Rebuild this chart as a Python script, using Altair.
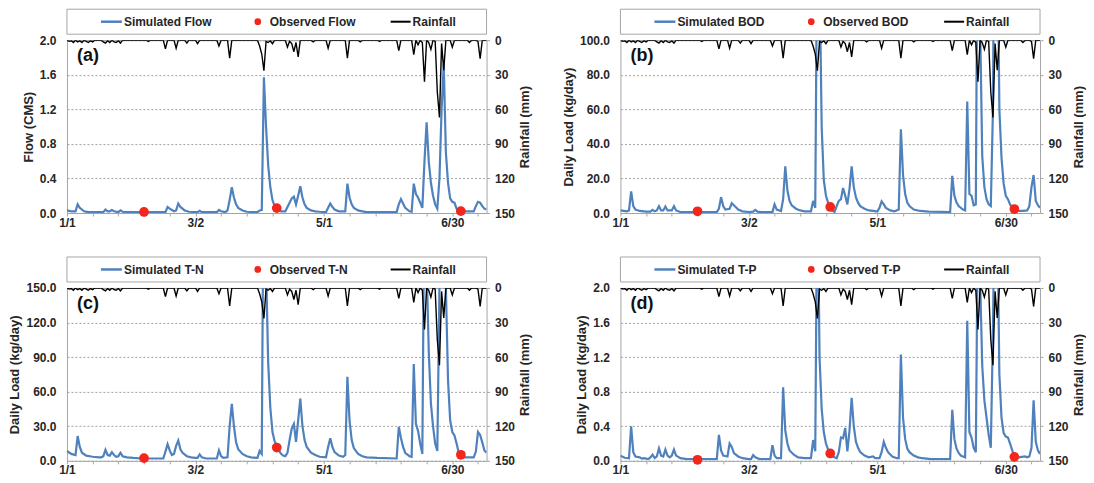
import altair as alt
import pandas as pd

# ---------------- data ----------------
X_END = 196
tick_days = [0, 60, 120, 180]
tick_labels = ["1/1", "3/2", "5/1", "6/30"]
minor_days = list(range(0, 197, 12))
rain_ticks = [0, 30, 60, 90, 120, 150]

rain_values = [
    (0, 0), (1, 1), (2, 0.5), (3, 2), (4, 0), (5, 1.5), (6, 0.5), (7, 2), (8, 0), (9, 1), (10, 2),
    (11, 0.5), (12, 1.5), (13, 0), (16, 0), (17, 1.5), (18, 2.5), (19, 0.5), (20, 2), (21, 0),
    (22, 1.5), (23, 2), (24, 0.5), (25, 2.5), (26, 0), (37, 0), (38, 1), (39, 0), (45, 0), (46, 7.5),
    (47, 0), (50, 0), (51, 7), (52, 0), (55, 0), (56, 2.5), (57, 0), (60, 0), (61, 3), (62, 0),
    (70, 0), (71, 5), (72, 0), (75, 0), (76, 15.5), (77, 0), (89, 0), (90, 5), (91, 12), (92, 26.5),
    (93, 1), (94, 2), (95, 0.5), (96, 3), (97, 0), (102, 0), (103, 6), (104, 1), (105, 3), (106, 10),
    (107, 2), (108, 14.5), (109, 0), (114, 0), (115, 1.5), (116, 0), (121, 0), (122, 7), (123, 0),
    (130, 0), (131, 15.5), (132, 0), (136, 0), (137, 1.5), (138, 0), (145, 0), (146, 1), (147, 0),
    (154, 0), (155, 9), (156, 0), (161, 0), (162, 12.5), (163, 0), (164, 4), (165, 0), (166, 2),
    (167, 36), (168, 0), (169, 2), (170, 8), (171, 0), (172, 1), (173, 45), (174, 67), (175, 3),
    (176, 26), (177, 0), (179, 0), (180, 6), (181, 0), (187, 0), (188, 2), (189, 0), (191, 0),
    (192, 1), (193, 16), (194, 0), (196, 0),
]

flow_sim = [
    (0, 0.03), (2, 0.02), (4, 0.02), (5, 0.10), (6, 0.06), (8, 0.02), (10, 0.01), (17, 0.01),
    (18, 0.04), (19, 0.02), (20, 0.02), (21, 0.035), (22, 0.02), (24, 0.01), (25, 0.03), (26, 0.015),
    (28, 0.01), (46, 0.01), (47, 0.07), (48, 0.05), (50, 0.02), (51, 0.03), (52, 0.11), (53, 0.07),
    (55, 0.03), (57, 0.015), (61, 0.01), (62, 0.025), (63, 0.01), (70, 0.01), (71, 0.035), (72, 0.02),
    (74, 0.01), (75, 0.03), (76, 0.15), (77, 0.30), (78, 0.18), (79, 0.10), (80, 0.06), (82, 0.03),
    (84, 0.015), (89, 0.01), (90, 0.03), (91, 0.035), (92, 1.57), (93, 1.0), (94, 0.55), (95, 0.30),
    (96, 0.15), (97, 0.08), (98, 0.05), (99, 0.03), (100, 0.02), (102, 0.02), (103, 0.07), (104, 0.12),
    (105, 0.17), (106, 0.19), (107, 0.10), (108, 0.20), (109, 0.31), (110, 0.18), (111, 0.10),
    (112, 0.06), (114, 0.03), (116, 0.02), (118, 0.015), (121, 0.01), (122, 0.06), (123, 0.11),
    (124, 0.07), (125, 0.04), (127, 0.02), (130, 0.02), (131, 0.34), (132, 0.18), (133, 0.10),
    (134, 0.06), (136, 0.03), (138, 0.02), (140, 0.01), (154, 0.01), (155, 0.10), (156, 0.16),
    (157, 0.11), (158, 0.06), (160, 0.02), (161, 0.015), (162, 0.34), (163, 0.22), (164, 0.18),
    (165, 0.12), (166, 0.06), (167, 0.60), (168, 1.05), (169, 0.60), (170, 0.35), (171, 0.20),
    (172, 0.10), (173, 0.05), (174, 0.40), (175, 1.20), (176, 1.72), (177, 0.70), (178, 0.35),
    (179, 0.17), (180, 0.13), (181, 0.12), (182, 0.05), (183, 0.02), (190, 0.02), (191, 0.08),
    (192, 0.13), (193, 0.12), (194, 0.08), (195, 0.05), (196, 0.04),
]

bod_sim = [
    (0, 1.5), (3, 1.0), (4, 1.5), (5, 12.5), (6, 4), (7, 2), (9, 1.2), (12, 0.8), (14, 0.8), (15, 1.8),
    (16, 1.0), (17, 1.5), (18, 4.0), (19, 1.5), (20, 1.5), (21, 3.8), (22, 1.5), (24, 1.5), (25, 4.0),
    (26, 1.5), (28, 0.6), (45, 0.5), (46, 2.5), (47, 9.2), (48, 4), (49, 2), (51, 2.5), (52, 5.7),
    (53, 4.5), (55, 2), (57, 1), (60, 0.6), (62, 0.8), (63, 1.8), (64, 0.8), (66, 0.5), (71, 0.5),
    (72, 5), (73, 2), (75, 1.2), (76, 8), (77, 27), (78, 13), (79, 7), (80, 4.5), (82, 2.5), (84, 1.5),
    (86, 1), (89, 1), (90, 7), (91, 3), (92, 180), (93, 140), (94, 50), (95, 19), (96, 10), (97, 6),
    (98, 3.5), (99, 1.5), (100, 0.6), (101, 4), (102, 7), (103, 8), (104, 14.5), (105, 10), (106, 5),
    (107, 14), (108, 27), (109, 15), (110, 9), (111, 6), (112, 4), (114, 2.5), (116, 1.5), (118, 1.2),
    (120, 0.8), (121, 3), (122, 6.7), (123, 5), (124, 3), (126, 1.5), (128, 1), (130, 2), (131, 48.5),
    (132, 22), (133, 11), (134, 6), (135, 4), (137, 2), (140, 1.2), (144, 0.8), (154, 0.6), (155, 21.5),
    (156, 10), (157, 6), (158, 4), (160, 2), (161, 1.5), (162, 64.5), (163, 11), (164, 10), (165, 4.5),
    (166, 5), (167, 220), (168, 110), (169, 33), (170, 15), (171, 8), (172, 5), (173, 4), (174, 60),
    (175, 250), (176, 180), (177, 60), (178, 32), (179, 17), (180, 10), (181, 8), (182, 5), (183, 3),
    (184, 2), (186, 1.2), (188, 1.2), (190, 1.5), (191, 4), (192, 15), (193, 22), (194, 7), (195, 4.5),
    (196, 3),
]

tn_sim = [
    (0, 8.5), (2, 6), (4, 5), (5, 21.5), (6, 12), (7, 7), (9, 4.5), (12, 3.5), (15, 3), (16, 3), (17, 4),
    (18, 9.5), (19, 5), (20, 4.5), (21, 7.5), (22, 5), (23, 3.5), (24, 4), (25, 7), (26, 4), (28, 3),
    (31, 2.5), (35, 2), (45, 2), (46, 8), (47, 14.5), (48, 9), (49, 5), (50, 6), (51, 13), (52, 17.5),
    (53, 10), (54, 7), (56, 4), (58, 3), (60, 2.5), (61, 2.5), (62, 5.5), (63, 3), (65, 2), (70, 2),
    (71, 9), (72, 4), (73, 2.5), (75, 3), (76, 30), (77, 49.5), (78, 30), (79, 16), (80, 10), (82, 6),
    (84, 4), (86, 3), (89, 2.5), (90, 8.5), (91, 6), (92, 300), (93, 170), (94, 85), (95, 46), (96, 25),
    (97, 17), (98, 13), (99, 9), (100, 6), (101, 4.5), (102, 4), (103, 7), (104, 18), (105, 28),
    (106, 32), (107, 16.5), (108, 35), (109, 54), (110, 30), (111, 18), (112, 12), (114, 7), (116, 5),
    (118, 3.5), (121, 3), (122, 12), (123, 19.5), (124, 12), (125, 7.5), (127, 4.5), (129, 3.5),
    (130, 5), (131, 73), (132, 35), (133, 18), (134, 11), (136, 6), (138, 4), (140, 3), (145, 2.5),
    (154, 2), (155, 29.5), (156, 20), (157, 12), (158, 7), (160, 4), (161, 3.5), (162, 84), (163, 32),
    (164, 26), (165, 15), (166, 6), (167, 250), (168, 170), (169, 95), (170, 50), (171, 30), (172, 15),
    (173, 8.5), (174, 150), (175, 300), (176, 280), (177, 150), (178, 70), (179, 35), (180, 25),
    (181, 22), (182, 15), (183, 7), (184, 4.5), (186, 3), (190, 3), (191, 8), (192, 25), (193, 22.5),
    (194, 16), (195, 9), (196, 7),
]

tp_sim = [
    (0, 0.06), (2, 0.035), (4, 0.03), (5, 0.40), (6, 0.10), (7, 0.05), (9, 0.04), (10, 0.025),
    (11, 0.03), (13, 0.02), (14, 0.04), (15, 0.07), (16, 0.03), (17, 0.05), (18, 0.145), (19, 0.06),
    (20, 0.05), (21, 0.13), (22, 0.06), (23, 0.04), (24, 0.06), (25, 0.13), (26, 0.06), (28, 0.03),
    (31, 0.02), (45, 0.02), (46, 0.30), (47, 0.12), (48, 0.06), (50, 0.05), (51, 0.20), (52, 0.16),
    (53, 0.09), (55, 0.05), (57, 0.03), (60, 0.02), (61, 0.02), (62, 0.065), (63, 0.04), (65, 0.02),
    (70, 0.02), (71, 0.18), (72, 0.06), (73, 0.03), (75, 0.03), (76, 0.85), (77, 0.35), (78, 0.20),
    (79, 0.12), (81, 0.07), (83, 0.04), (86, 0.03), (89, 0.03), (90, 0.24), (91, 0.11), (92, 3.5),
    (93, 1.2), (94, 0.6), (95, 0.33), (96, 0.20), (97, 0.13), (98, 0.09), (99, 0.06), (100, 0.04),
    (101, 0.03), (102, 0.10), (103, 0.27), (104, 0.26), (105, 0.38), (106, 0.11), (107, 0.35),
    (108, 0.73), (109, 0.40), (110, 0.22), (111, 0.15), (112, 0.10), (114, 0.06), (116, 0.04),
    (118, 0.05), (119, 0.03), (121, 0.03), (122, 0.10), (123, 0.22), (124, 0.15), (125, 0.10),
    (127, 0.05), (129, 0.03), (130, 0.03), (131, 1.23), (132, 0.50), (133, 0.25), (134, 0.14),
    (135, 0.10), (137, 0.06), (139, 0.04), (141, 0.03), (145, 0.02), (154, 0.02), (155, 0.59),
    (156, 0.25), (157, 0.14), (158, 0.09), (159, 0.06), (160, 0.05), (161, 0.04), (162, 1.62),
    (163, 0.33), (164, 0.27), (165, 0.15), (166, 0.10), (167, 3.0), (168, 2.1), (169, 1.1), (170, 0.7),
    (171, 0.5), (172, 0.3), (173, 0.15), (174, 1.5), (175, 3.5), (176, 3.0), (177, 1.0), (178, 0.5),
    (179, 0.32), (180, 0.28), (181, 0.27), (182, 0.2), (183, 0.12), (184, 0.06), (186, 0.04),
    (189, 0.05), (190, 0.04), (191, 0.05), (192, 0.15), (193, 0.70), (194, 0.22), (195, 0.12),
    (196, 0.08),
]

obs_days = [36, 98, 184]
flow_obs = [0.012, 0.057, 0.022]
bod_obs = [1.0, 3.5, 2.3]
tn_obs = [2.3, 11.5, 5.2]
tp_obs = [0.012, 0.085, 0.046]

# ---------------- styling ----------------
BLUE = "#4F81BD"
RED = "#F2261B"
GRAY = "#A6A6A6"
TXT = "#262626"
FONT = "Liberation Sans"
W, H = 420, 173

label_expr = "''"
for d, l in reversed(list(zip(tick_days, tick_labels))):
    label_expr = f"datum.value == {d} ? '{l}' : ({label_expr})"

x_enc = alt.X(
    "day:Q",
    scale=alt.Scale(domain=[0, X_END], nice=False, zero=False),
    axis=alt.Axis(values=minor_days, labelExpr=label_expr, title=None, grid=False,
                  domain=False, ticks=True, tickSize=3, tickColor=GRAY, labelPadding=1,
                  labelFlush=False, labelOverlap=False),
)

one = pd.DataFrame({"k": [0]})
rain_df = pd.DataFrame(rain_values, columns=["day", "rain"])


def panel(tag, sim_pts, obs_vals, ytitle, ymax, ystep, sim_label, obs_label):
    sim_df = pd.DataFrame(sim_pts, columns=["day", "value"])
    obs_df = pd.DataFrame({"day": obs_days, "value": obs_vals})
    n = int(round(ymax / ystep))
    yvals = [round(i * ystep, 6) for i in range(n + 1)]
    ys = alt.Scale(domain=[0, ymax], nice=False, zero=True)
    ya = alt.Axis(title=ytitle, orient="left", values=yvals, format=".1f", grid=True,
                  gridColor="#A0A0A0", gridDash=[2, 2], gridWidth=1, ticks=False,
                  domain=False, labelPadding=11, titlePadding=4)
    sim = alt.Chart(sim_df).mark_line(color=BLUE, strokeWidth=2.2, clip=True).encode(
        x=x_enc, y=alt.Y("value:Q", scale=ys, axis=ya))
    obs = alt.Chart(obs_df).mark_circle(color=RED, size=95, opacity=1).encode(
        x=x_enc, y=alt.Y("value:Q", scale=ys, axis=ya))
    rain = alt.Chart(rain_df).mark_line(color="black", strokeWidth=1.4, clip=True).encode(
        x=x_enc,
        y=alt.Y("rain:Q", scale=alt.Scale(domain=[0, 150], reverse=True, nice=False),
                axis=alt.Axis(title="Rainfall (mm)", orient="right", values=rain_ticks,
                              format="d", grid=False, domain=False, ticks=True, tickSize=3,
                              tickColor=GRAY, labelPadding=5, titlePadding=4,
                              titleAngle=270, titleBaseline="top")),
    )
    txt = dict(align="left", baseline="middle", font=FONT, fontSize=12,
               fontWeight="bold", color=TXT)
    box = alt.Chart(one).mark_rect(fill="white", stroke=GRAY, strokeWidth=1).encode(
        x=alt.value(0), x2=alt.value(W), y=alt.value(-31), y2=alt.value(-6))
    l1 = alt.Chart(one).mark_rule(color=BLUE, strokeWidth=2.5).encode(
        x=alt.value(34), x2=alt.value(55), y=alt.value(-18.5))
    t1 = alt.Chart(one).mark_text(text=sim_label, **txt).encode(x=alt.value(57), y=alt.value(-18))
    d2 = alt.Chart(one).mark_circle(color=RED, size=45, opacity=1).encode(
        x=alt.value(191), y=alt.value(-18.5))
    t2 = alt.Chart(one).mark_text(text=obs_label, **txt).encode(x=alt.value(203), y=alt.value(-18))
    l3 = alt.Chart(one).mark_rule(color="black", strokeWidth=2).encode(
        x=alt.value(324), x2=alt.value(344), y=alt.value(-18.5))
    t3 = alt.Chart(one).mark_text(text="Rainfall", **txt).encode(x=alt.value(346), y=alt.value(-18))
    lab = alt.Chart(one).mark_text(text=tag, align="left", baseline="alphabetic", font=FONT,
                                   fontSize=18, fontWeight="bold", color="#111111").encode(
        x=alt.value(10), y=alt.value(21))
    return (
        alt.layer(alt.layer(sim, obs), rain, lab, box, l1, t1, d2, t2, l3, t3)
        .resolve_scale(y="independent")
        .properties(width=W, height=H)
    )


pa = panel("(a)", flow_sim, flow_obs, "Flow (CMS)", 2.0, 0.4, "Simulated Flow", "Observed Flow")
pb = panel("(b)", bod_sim, bod_obs, "Daily Load (kg/day)", 100.0, 20.0, "Simulated BOD", "Observed BOD")
pc = panel("(c)", tn_sim, tn_obs, "Daily Load (kg/day)", 150.0, 30.0, "Simulated T-N", "Observed T-N")
pd_ = panel("(d)", tp_sim, tp_obs, "Daily Load (kg/day)", 2.0, 0.4, "Simulated T-P", "Observed T-P")

chart = (
    alt.concat(pa, pb, pc, pd_, columns=2, spacing={"row": 75, "column": 134}, bounds="flush")
    .properties(padding={"left": 0, "top": 0, "right": 0, "bottom": 0})
    .configure_view(stroke=GRAY, strokeWidth=1)
    .configure_axis(labelFont=FONT, titleFont=FONT, labelFontSize=12, titleFontSize=13,
                    labelFontWeight="bold", titleFontWeight="bold", labelColor=TXT,
                    titleColor=TXT)
)

chart.save("out.html", embed_options={"renderer": "svg", "actions": False})
